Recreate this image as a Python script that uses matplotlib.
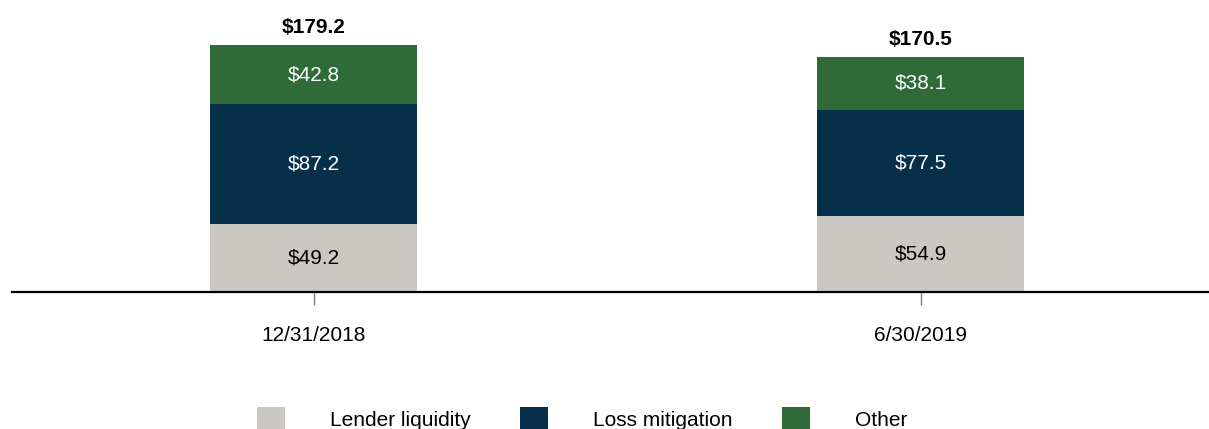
import matplotlib
matplotlib.use("Agg")
import matplotlib.pyplot as plt
import numpy as np
from matplotlib.patches import Patch

plt.rcParams["font.family"] = ["Liberation Sans", "DejaVu Sans"]

# ─── Data ─────────────────────────────────────────────────────────────────────

dates = ["12/31/2018", "6/30/2019"]
lender_liquidity = [49.2, 54.9]
loss_mitigation = [87.2, 77.5]
other = [42.8, 38.1]
totals = [179.2, 170.5]

series_names = ["Lender liquidity", "Loss mitigation", "Other"]
colors = ["#CBC8C3", "#06304A", "#2E6B38"]
text_colors = ["black", "white", "white"]

# ─── Plot ─────────────────────────────────────────────────────────────────────

fig = plt.figure(figsize=(12.09, 4.29), dpi=100)
ax = fig.add_axes([12 / 1209, 137 / 429, 1197 / 1209, 282 / 429])

x = np.arange(len(dates))
width = 0.341
bottom = np.zeros(len(dates))
for vals, col, tc in zip([lender_liquidity, loss_mitigation, other], colors, text_colors):
    bars = ax.bar(x, vals, width, bottom=bottom, color=col, zorder=2)
    for b, v, y0 in zip(bars, vals, bottom):
        ax.text(b.get_x() + b.get_width() / 2, y0 + v / 2, f"${v:.1f}",
                ha="center", va="center", color=tc, fontsize=15)
    bottom += np.array(vals)

for xi, t in zip(x, totals):
    ax.annotate(f"${t:.1f}", (xi, t), xytext=(0, 6), textcoords="offset points",
                ha="center", va="bottom", fontsize=15, fontweight="bold")

ax.set_xlim(-0.4975, 1.4745)
ax.set_ylim(0, 204.6)
ax.set_xticks(x)
ax.set_xticklabels(dates, fontsize=15)
ax.tick_params(axis="x", length=9.4, width=1, color="#7f7f7f", pad=15)
ax.set_yticks([])
for s in ["top", "right", "left"]:
    ax.spines[s].set_visible(False)
ax.spines["bottom"].set_linewidth(1.6)
ax.spines["bottom"].set_zorder(3)

handles = [Patch(facecolor=c, edgecolor="none") for c in colors]
fig.legend(handles, series_names, loc="center", bbox_to_anchor=(582 / 1209, 10 / 429),
           ncol=3, frameon=False, fontsize=15, handlelength=1.35, handleheight=1.35,
           handletextpad=2.16, columnspacing=2.36, borderpad=0)

fig.savefig("out.png", dpi=100)
